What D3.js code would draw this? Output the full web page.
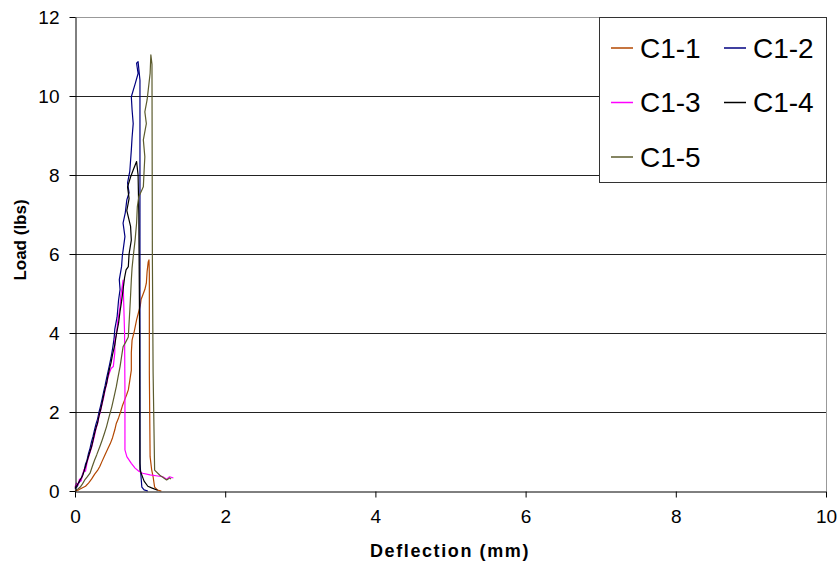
<!DOCTYPE html>
<html>
<head>
<meta charset="utf-8">
<script src="https://cdn.jsdelivr.net/npm/d3@7"></script>
<style>
  body { margin: 0; background: #fff; }
  text { font-family: "Liberation Sans", Arial, sans-serif; }
</style>
</head>
<body>
<div id="chart"></div>
<script>
// Load-deflection curves, [deflection mm, load lbs]
const c1_1 = [[0.00,0.00],[0.05,0.03],[0.10,0.08],[0.14,0.12],[0.18,0.20],[0.22,0.30],[0.26,0.42],[0.30,0.52],[0.33,0.62],[0.36,0.75],[0.40,0.92],[0.44,1.08],[0.47,1.20],[0.50,1.35],[0.53,1.55],[0.55,1.71],[0.58,1.85],[0.61,2.02],[0.63,2.15],[0.66,2.30],[0.69,2.45],[0.71,2.56],[0.73,2.80],[0.75,3.06],[0.75,3.50],[0.76,3.82],[0.79,4.05],[0.82,4.33],[0.85,4.55],[0.87,4.70],[0.88,4.85],[0.91,5.00],[0.93,5.10],[0.95,5.26],[0.96,5.55],[0.975,5.80],[0.985,5.85],[0.99,5.50],[0.99,3.00],[1.00,0.87],[1.02,0.55],[1.04,0.36],[1.06,0.10],[1.10,0.02],[1.15,0.00]];
const c1_2 = [[0.00,0.05],[0.03,0.12],[0.05,0.20],[0.08,0.28],[0.10,0.42],[0.12,0.50],[0.14,0.68],[0.16,0.78],[0.18,0.95],[0.20,1.08],[0.22,1.25],[0.24,1.38],[0.26,1.55],[0.28,1.70],[0.30,1.82],[0.32,2.00],[0.34,2.15],[0.36,2.32],[0.38,2.50],[0.40,2.66],[0.42,2.85],[0.44,3.02],[0.46,3.20],[0.48,3.38],[0.50,3.60],[0.52,3.85],[0.53,4.10],[0.56,4.40],[0.58,4.83],[0.60,5.10],[0.59,5.35],[0.62,5.68],[0.63,5.95],[0.665,6.44],[0.64,6.78],[0.67,7.05],[0.69,7.37],[0.72,7.55],[0.70,7.80],[0.73,8.10],[0.75,8.63],[0.76,8.95],[0.775,9.30],[0.76,9.65],[0.75,9.98],[0.80,10.30],[0.84,10.57],[0.82,10.83],[0.84,10.87],[0.865,10.40],[0.865,5.00],[0.865,0.70],[0.89,0.10],[0.92,0.03],[0.97,0.00]];
const c1_3 = [[0.00,0.10],[0.02,0.20],[0.04,0.15],[0.06,0.30],[0.08,0.25],[0.10,0.40],[0.12,0.55],[0.14,0.50],[0.16,0.72],[0.18,0.85],[0.20,0.98],[0.22,1.10],[0.24,1.25],[0.26,1.40],[0.28,1.58],[0.30,1.70],[0.32,1.90],[0.34,2.02],[0.36,2.20],[0.38,2.35],[0.40,2.55],[0.42,2.70],[0.44,2.88],[0.46,3.00],[0.48,3.10],[0.51,3.15],[0.53,3.50],[0.53,3.82],[0.55,3.95],[0.57,4.30],[0.60,4.67],[0.61,4.95],[0.63,5.20],[0.64,5.34],[0.645,5.00],[0.66,4.00],[0.665,2.50],[0.665,1.04],[0.69,0.87],[0.75,0.70],[0.80,0.58],[0.85,0.50],[0.90,0.45],[1.00,0.41],[1.10,0.38],[1.17,0.36],[1.22,0.30],[1.26,0.36],[1.31,0.33]];
const c1_4 = [[0.00,0.08],[0.03,0.15],[0.05,0.22],[0.08,0.32],[0.10,0.38],[0.12,0.50],[0.14,0.62],[0.16,0.75],[0.18,0.88],[0.20,1.00],[0.22,1.12],[0.24,1.28],[0.26,1.45],[0.28,1.60],[0.30,1.72],[0.32,1.90],[0.34,2.05],[0.36,2.22],[0.38,2.40],[0.40,2.58],[0.42,2.72],[0.44,2.92],[0.46,3.10],[0.48,3.25],[0.50,3.45],[0.53,3.70],[0.55,3.95],[0.58,4.25],[0.60,4.55],[0.62,4.80],[0.64,5.10],[0.66,5.40],[0.68,5.60],[0.71,5.68],[0.72,6.00],[0.75,6.35],[0.74,6.70],[0.69,7.10],[0.72,7.40],[0.70,7.70],[0.74,7.95],[0.78,8.15],[0.82,8.34],[0.84,8.00],[0.85,7.00],[0.86,4.00],[0.865,0.53],[0.92,0.25],[0.97,0.12],[1.02,0.08],[1.10,0.02]];
const c1_5 = [[0.00,0.02],[0.04,0.05],[0.07,0.10],[0.10,0.18],[0.13,0.28],[0.16,0.35],[0.20,0.45],[0.23,0.62],[0.26,0.78],[0.29,0.92],[0.33,1.12],[0.36,1.28],[0.39,1.45],[0.42,1.63],[0.45,1.85],[0.49,2.13],[0.52,2.38],[0.55,2.64],[0.57,2.85],[0.60,3.15],[0.62,3.40],[0.64,3.65],[0.67,3.75],[0.71,3.90],[0.72,4.25],[0.73,4.58],[0.74,4.95],[0.75,5.34],[0.76,5.65],[0.775,5.93],[0.80,6.35],[0.82,6.78],[0.83,7.20],[0.85,7.45],[0.91,7.70],[0.92,8.10],[0.93,8.46],[0.91,8.89],[0.95,9.30],[0.93,9.60],[0.96,9.90],[0.975,10.15],[1.00,10.57],[1.01,11.04],[1.025,10.80],[1.03,6.00],[1.04,3.00],[1.06,0.53],[1.13,0.40],[1.22,0.28],[1.26,0.33],[1.28,0.30]];

const seriesNames = ["C1-1", "C1-2", "C1-3", "C1-4", "C1-5"];
const seriesData = [c1_1, c1_2, c1_3, c1_4, c1_5];
const seriesColors = ["#b34700", "#000080", "#ff00ff", "#000000", "#5c5c2e"];
const xTicks = [0, 2, 4, 6, 8, 10];
const yTicks = [0, 2, 4, 6, 8, 10, 12];

function createChart() {
    const width = 839;
    const height = 567;
    const margin = { top: 17, right: 13, bottom: 76, left: 75 };

    const svg = d3.select("#chart")
        .append("svg")
        .attr("width", width)
        .attr("height", height);

    const x = d3.scaleLinear().domain([0, 10]).range([margin.left, width - margin.right]);
    const y = d3.scaleLinear().domain([0, 12]).range([height - margin.bottom, margin.top]);

    // gridlines
    svg.append("g")
        .selectAll("line")
        .data(yTicks.filter(d => d > 0 && d < 12))
        .enter()
        .append("line")
        .attr("x1", x(0)).attr("x2", x(10))
        .attr("y1", d => Math.round(y(d)) + 0.5).attr("y2", d => Math.round(y(d)) + 0.5)
        .attr("stroke", "#222")
        .attr("stroke-width", 1);

    // plot border (top, right)
    svg.append("path")
        .attr("d", `M${x(0)},${Math.round(y(12)) + 0.5}H${Math.round(x(10)) + 0.5}V${y(0)}`)
        .attr("fill", "none")
        .attr("stroke", "#999")
        .attr("stroke-width", 1);

    // curves
    const line = d3.line().x(d => x(d[0])).y(d => y(d[1]));
    svg.append("g")
        .selectAll("path")
        .data(seriesData)
        .enter()
        .append("path")
        .attr("d", line)
        .attr("fill", "none")
        .attr("stroke", (d, i) => seriesColors[i])
        .attr("stroke-width", 1.2)
        .attr("stroke-linejoin", "round");

    // axes
    const xAxis = svg.append("g")
        .attr("transform", `translate(0,${Math.round(y(0)) + 0.5})`)
        .call(d3.axisBottom(x).tickValues(xTicks).tickSize(6).tickSizeOuter(0).tickPadding(12));
    const yAxis = svg.append("g")
        .attr("transform", `translate(${Math.round(x(0)) + 0.5},0)`)
        .call(d3.axisLeft(y).tickValues(yTicks).tickSize(6).tickSizeOuter(0).tickPadding(10));

    [xAxis, yAxis].forEach(a => {
        a.select(".domain").attr("stroke", "#000");
        a.selectAll(".tick line").attr("stroke", "#000");
        a.selectAll(".tick text")
            .attr("fill", "#000")
            .style("font-size", "19px")
            .style("font-family", "'Liberation Sans Narrow', 'Arial Narrow', 'Liberation Sans', sans-serif");
    });

    // axis titles
    svg.append("text")
        .attr("x", 450)
        .attr("y", 557)
        .attr("text-anchor", "middle")
        .style("font-size", "18px")
        .style("font-weight", "bold")
        .style("font-family", "'Liberation Sans Narrow', 'Arial Narrow', 'Liberation Sans', sans-serif")
        .style("letter-spacing", "1.6px")
        .text("Deflection (mm)");

    svg.append("text")
        .attr("transform", "translate(26,240) rotate(-90)")
        .attr("text-anchor", "middle")
        .style("font-size", "17px")
        .style("font-weight", "bold")
        .text("Load (lbs)");

    // legend
    const legend = svg.append("g").attr("transform", "translate(599,17)");
    legend.append("rect")
        .attr("x", 0.5).attr("y", 0.5)
        .attr("width", 227).attr("height", 165)
        .attr("fill", "#fff")
        .attr("stroke", "#333")
        .attr("stroke-width", 1);

    const items = legend.selectAll(".item")
        .data(seriesNames)
        .enter()
        .append("g")
        .attr("class", "item")
        .attr("transform", (d, i) => `translate(${(i % 2) * 113},${31 + Math.floor(i / 2) * 54.5})`);

    items.append("line")
        .attr("x1", 12).attr("x2", 34)
        .attr("y1", 0).attr("y2", 0)
        .attr("stroke", (d, i) => seriesColors[i])
        .attr("stroke-width", 1.5);

    items.append("text")
        .attr("x", 41)
        .attr("y", 9.5)
        .style("font-size", "28px")
        .attr("fill", "#000")
        .text(d => d);
}

document.addEventListener("DOMContentLoaded", createChart);
</script>
</body>
</html>
